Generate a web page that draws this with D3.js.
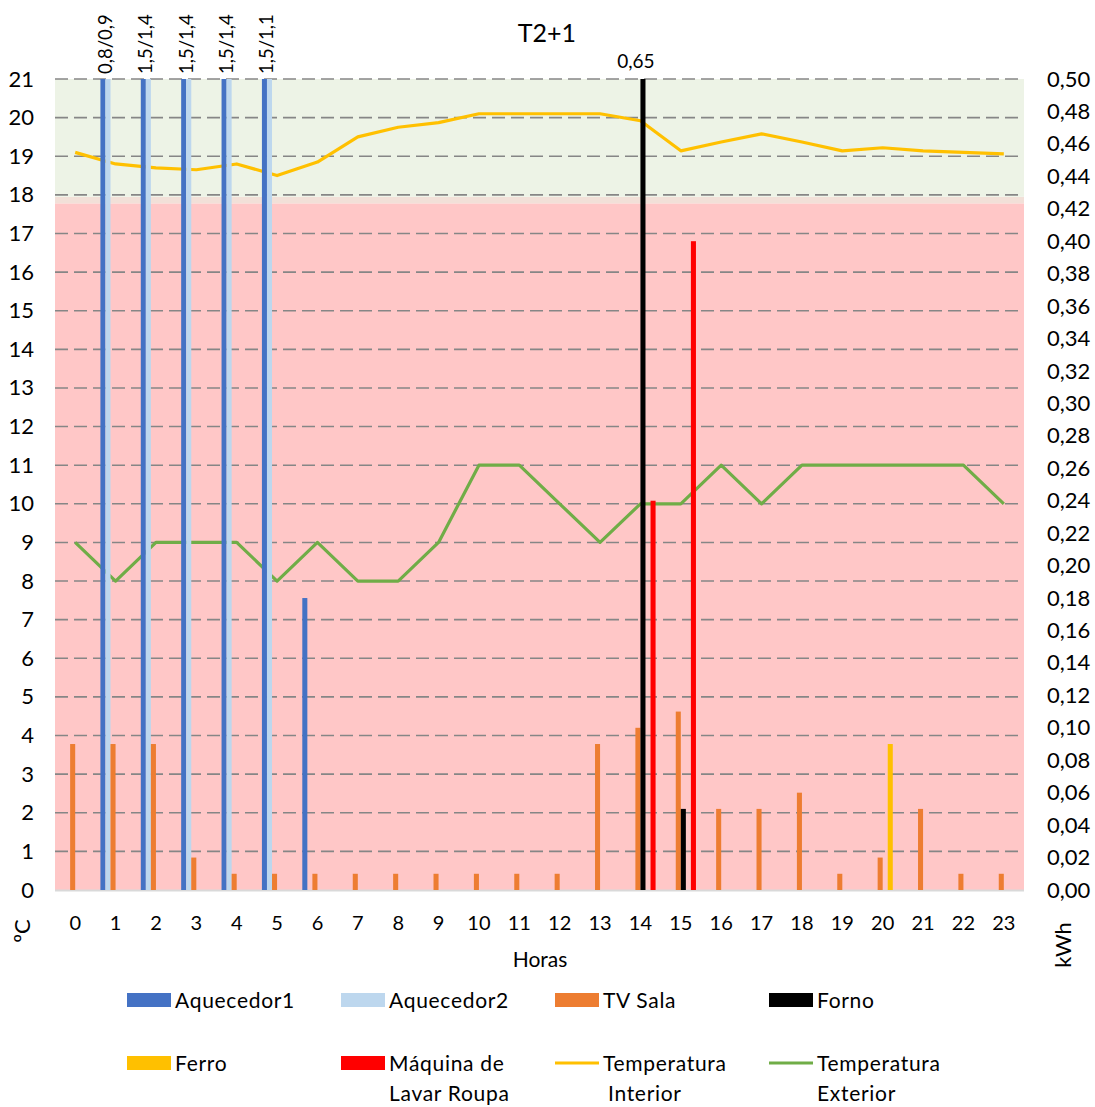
<!DOCTYPE html>
<html>
<head>
<meta charset="utf-8">
<script src="https://cdn.jsdelivr.net/npm/d3@7"></script>
<style>
	body { margin: 0; background: #fff; }
	text { font-family: Lato, "Open Sans", sans-serif; fill: #000; }
</style>
</head>
<body>
<svg id="chart" width="1095" height="1107"></svg>
<script>
// dados
var horas = ["0","1","2","3","4","5","6","7","8","9","10","11","12","13","14","15","16","17","18","19","20","21","22","23"];

var aquecedor1 = [0, 0.8, 1.5, 1.5, 1.5, 1.5, 0.18, 0, 0, 0, 0, 0, 0, 0, 0, 0, 0, 0, 0, 0, 0, 0, 0, 0];
var aquecedor2 = [0, 0.9, 1.4, 1.4, 1.4, 1.1, 0, 0, 0, 0, 0, 0, 0, 0, 0, 0, 0, 0, 0, 0, 0, 0, 0, 0];
var tvSala     = [0.09, 0.09, 0.09, 0.02, 0.01, 0.01, 0.01, 0.01, 0.01, 0.01, 0.01, 0.01, 0.01, 0.09, 0.10, 0.11, 0.05, 0.05, 0.06, 0.01, 0.02, 0.05, 0.01, 0.01];
var forno      = [0, 0, 0, 0, 0, 0, 0, 0, 0, 0, 0, 0, 0, 0, 0.65, 0.05, 0, 0, 0, 0, 0, 0, 0, 0];
var ferro      = [0, 0, 0, 0, 0, 0, 0, 0, 0, 0, 0, 0, 0, 0, 0, 0, 0, 0, 0, 0, 0.09, 0, 0, 0];
var maquina    = [0, 0, 0, 0, 0, 0, 0, 0, 0, 0, 0, 0, 0, 0, 0.24, 0.40, 0, 0, 0, 0, 0, 0, 0, 0];

var tempInterior = [19.1, 18.8, 18.7, 18.65, 18.8, 18.5, 18.85, 19.5, 19.75, 19.87, 20.1, 20.1, 20.1, 20.1, 19.92, 19.14, 19.37, 19.58, 19.37, 19.14, 19.22, 19.14, 19.1, 19.06];
var tempExterior = [9, 8, 9, 9, 9, 8, 9, 8, 8, 9, 11, 11, 10, 9, 10, 10, 11, 10, 11, 11, 11, 11, 11, 10];

var zonaConforto = [17.95, 21];
var zonaTransicao = [17.78, 17.95];
var zonaFrio = [0, 17.78];

var ticksCelsius = [0,1,2,3,4,5,6,7,8,9,10,11,12,13,14,15,16,17,18,19,20,21];
var ticksKwh = [0,0.02,0.04,0.06,0.08,0.10,0.12,0.14,0.16,0.18,0.20,0.22,0.24,0.26,0.28,0.30,0.32,0.34,0.36,0.38,0.40,0.42,0.44,0.46,0.48,0.50];

var barras = [
	{ nome: "Aquecedor1", valores: aquecedor1, cor: "#4472C4" },
	{ nome: "Aquecedor2", valores: aquecedor2, cor: "#BDD7EE" },
	{ nome: "TV Sala", valores: tvSala, cor: "#ED7D31" },
	{ nome: "Forno", valores: forno, cor: "#000000" },
	{ nome: "Ferro", valores: ferro, cor: "#FFC000" },
	{ nome: "Máquina de Lavar Roupa", valores: maquina, cor: "#FF0000" }
];
var linhas = [
	{ nome: "Temperatura Interior", valores: tempInterior, cor: "#FFC000" },
	{ nome: "Temperatura Exterior", valores: tempExterior, cor: "#70AD47" }
];

var pLeft = 55, pRight = 1024, pTop = 79, pBottom = 890;
var svg = d3.select("#chart");
var pt = d3.formatLocale({ decimal: ",", thousands: ".", grouping: [3], currency: ["", "€"] });
var fmt2 = pt.format(".2f");
var fmtLabel = function(v) { return String(v).replace(".", ","); };

var x = d3.scaleBand()
	.domain(horas)
	.range([pLeft, pRight])
	.paddingInner(0.25)
	.paddingOuter(0.125);

var xs = d3.scaleBand()
	.domain(barras.map(function(s) { return s.nome; }))
	.range([0, x.bandwidth()]);

var yL = d3.scaleLinear().domain([0, 21]).range([pBottom, pTop]);
var yR = d3.scaleLinear().domain([0, 0.5]).range([pBottom, pTop]);

// fundo
function zona(z, cor) {
	svg.append("rect")
	    .attr("x", pLeft)
	    .attr("y", yL(z[1]))
	    .attr("width", pRight - pLeft)
	    .attr("height", yL(z[0]) - yL(z[1]))
	    .attr("fill", cor);
}
zona(zonaFrio, "#FFC7C7");
zona(zonaTransicao, "#F2E0D8");
zona(zonaConforto, "#EDF3E6");

// grelha
svg.append("g")
  .selectAll("line")
  .data(ticksCelsius.filter(function(t) { return t > 0; }))
  .join("line")
    .attr("x1", pLeft)
    .attr("x2", pRight - 4)
    .attr("y1", function(d) { return yL(d); })
    .attr("y2", function(d) { return yL(d); })
    .attr("stroke", "#868686")
    .attr("stroke-width", 1.6)
    .attr("stroke-dasharray", "13,6");

svg.append("line")
    .attr("x1", pLeft)
    .attr("x2", pRight)
    .attr("y1", pBottom + 0.5)
    .attr("y2", pBottom + 0.5)
    .attr("stroke", "#D9D9D9")
    .attr("stroke-width", 2);

// linhas de temperatura
var linha = d3.line()
	.x(function(d, i) { return x(horas[i]) + x.bandwidth() / 2; })
	.y(function(d) { return yL(d); });

svg.append("g")
  .selectAll("path")
  .data(linhas)
  .join("path")
    .attr("d", function(s) { return linha(s.valores); })
    .attr("fill", "none")
    .attr("stroke", function(s) { return s.cor; })
    .attr("stroke-width", 3.2)
    .attr("stroke-linejoin", "round");

// barras (eixo secundario)
svg.append("clipPath")
    .attr("id", "area")
  .append("rect")
    .attr("x", pLeft)
    .attr("y", pTop)
    .attr("width", pRight - pLeft)
    .attr("height", pBottom - pTop);

var gBarras = svg.append("g").attr("clip-path", "url(#area)");

barras.forEach(function(s) {
	gBarras.append("g")
	  .selectAll("rect")
	  .data(s.valores.map(function(v, i) { return { h: horas[i], v: v }; }).filter(function(d) { return d.v > 0; }))
	  .join("rect")
	    .attr("x", function(d) { return x(d.h) + xs(s.nome); })
	    .attr("width", xs.bandwidth())
	    .attr("y", function(d) { return yR(d.v); })
	    .attr("height", function(d) { return pBottom - yR(d.v); })
	    .attr("fill", s.cor);
});

// rotulos de valores fora da escala
horas.forEach(function(h, i) {
	if (aquecedor1[i] > 0.5) {
		var lx = x(h) + xs("Aquecedor2");
		svg.append("text")
		    .attr("transform", "translate(" + lx + "," + (pTop - 5) + ") rotate(-90)")
		    .attr("dy", "0.35em")
		    .style("font-size", "18.5px")
		    .text(fmtLabel(aquecedor1[i]) + "/" + fmtLabel(aquecedor2[i]));
	}
	if (forno[i] > 0.5) {
		svg.append("text")
		    .attr("x", x(h) + xs("Forno") + xs.bandwidth() / 2 - 7)
		    .attr("y", pTop - 11)
		    .attr("text-anchor", "middle")
		    .style("font-size", "19px")
		    .text(fmtLabel(forno[i]));
	}
});

// eixos
var eixoX = svg.append("g")
    .attr("transform", "translate(0," + pBottom + ")")
    .call(d3.axisBottom(x).tickSize(0).tickPadding(26));
eixoX.select(".domain").remove();
eixoX.selectAll("text").style("font-size", "20px").style("font-family", "Lato, sans-serif");

var eixoE = svg.append("g")
    .attr("transform", "translate(" + pLeft + ",0)")
    .call(d3.axisLeft(yL).tickValues(ticksCelsius).tickSize(0).tickPadding(21));
eixoE.select(".domain").remove();
eixoE.selectAll("text").style("font-size", "22px").style("font-family", "Lato, sans-serif");

var eixoD = svg.append("g")
    .attr("transform", "translate(" + pRight + ",0)")
    .call(d3.axisRight(yR).tickValues(ticksKwh).tickFormat(fmt2).tickSize(0).tickPadding(23));
eixoD.select(".domain").remove();
eixoD.selectAll("text").style("font-size", "22px").style("font-family", "Lato, sans-serif");

// titulos
svg.append("text")
    .attr("x", 547)
    .attr("y", 42)
    .attr("text-anchor", "middle")
    .style("font-size", "25px")
    .text("T2+1");

svg.append("text")
    .attr("x", 540)
    .attr("y", 967)
    .attr("text-anchor", "middle")
    .style("font-size", "21px")
    .text("Horas");

svg.append("text")
    .attr("transform", "translate(22,931) rotate(-90)")
    .attr("text-anchor", "middle")
    .attr("dy", "0.35em")
    .style("font-size", "22px")
    .text("ºC");

svg.append("text")
    .attr("transform", "translate(1063,945) rotate(-90)")
    .attr("text-anchor", "middle")
    .attr("dy", "0.35em")
    .style("font-size", "22px")
    .text("kWh");

// legenda
var legenda = [
	{ linhas: ["Aquecedor1"], cor: "#4472C4", tipo: "barra" },
	{ linhas: ["Aquecedor2"], cor: "#BDD7EE", tipo: "barra" },
	{ linhas: ["TV Sala"], cor: "#ED7D31", tipo: "barra" },
	{ linhas: ["Forno"], cor: "#000000", tipo: "barra" },
	{ linhas: ["Ferro"], cor: "#FFC000", tipo: "barra" },
	{ linhas: ["Máquina de", "Lavar Roupa"], cor: "#FF0000", tipo: "barra" },
	{ linhas: ["Temperatura", "Interior"], cor: "#FFC000", tipo: "linha" },
	{ linhas: ["Temperatura", "Exterior"], cor: "#70AD47", tipo: "linha" }
];
var colX = [127, 341, 555, 769];
var rowY = [1000, 1063];

var item = svg.append("g")
  .selectAll("g")
  .data(legenda)
  .join("g")
    .attr("transform", function(d, i) { return "translate(" + colX[i % 4] + "," + rowY[Math.floor(i / 4)] + ")"; });

item.filter(function(d) { return d.tipo == "barra"; })
  .append("rect")
    .attr("x", 0)
    .attr("y", -7)
    .attr("width", 44)
    .attr("height", 14)
    .attr("fill", function(d) { return d.cor; });

item.filter(function(d) { return d.tipo == "linha"; })
  .append("line")
    .attr("x1", 0)
    .attr("x2", 44)
    .attr("stroke", function(d) { return d.cor; })
    .attr("stroke-width", 3);

item.append("text")
    .attr("x", 48)
    .attr("y", 8)
    .style("font-size", "21px")
    .style("letter-spacing", "0.7px")
  .selectAll("tspan")
  .data(function(d) { return d.linhas; })
  .join("tspan")
    .attr("x", function(t) { return t == "Interior" ? 53 : 48; })
    .attr("dy", function(t, j) { return j == 0 ? 0 : 30; })
    .text(function(t) { return t; });
</script>
</body>
</html>
